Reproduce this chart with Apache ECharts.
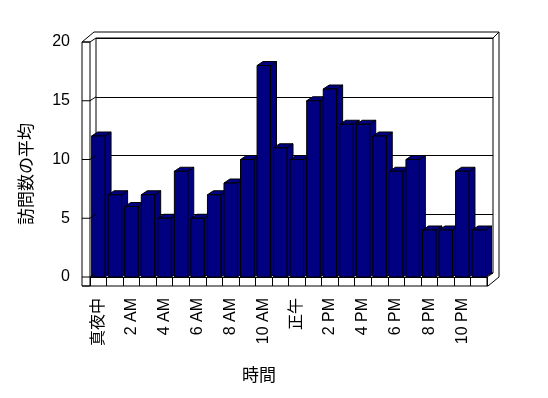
<!DOCTYPE html>
<html>
<head>
<meta charset="utf-8">
<script src="https://cdn.jsdelivr.net/npm/echarts@6/dist/echarts.min.js"></script>
<style>
  html, body { margin: 0; padding: 0; background: #fff; }
  #chart { width: 548px; height: 398px; }
</style>
</head>
<body>
<div id="chart"></div>
<script>
// 時間ごとの訪問数の平均
const hours = [
  '真夜中', '1 AM', '2 AM', '3 AM', '4 AM', '5 AM', '6 AM', '7 AM', '8 AM', '9 AM', '10 AM', '11 AM',
  '正午', '1 PM', '2 PM', '3 PM', '4 PM', '5 PM', '6 PM', '7 PM', '8 PM', '9 PM', '10 PM', '11 PM'
];
const visits = [12, 7, 6, 7, 5, 9, 5, 7, 8, 10, 18, 11, 10, 15, 16, 13, 13, 12, 9, 10, 4, 4, 9, 4];
const yTicks = [0, 5, 10, 15, 20];

const FONT = 'Liberation Sans, Arial, "Noto Sans CJK JP", sans-serif';
const JP_FONT = '"Noto Sans CJK JP", sans-serif';
const BAR = '#000080';
// 奥行き (3D風のずらし)
const DX = 6;
const DY = 4;

const chart = echarts.init(document.getElementById('chart'));

const renderBar = (params, api) => {
  const i = api.value(0);
  const v = api.value(1);
  const base = api.coord([i, 0]);
  const top = api.coord([i, v]);
  const band = api.size([1, 0])[0];
  const x0 = base[0] - band / 2 + band * 0.1;
  const x1 = x0 + band * 0.81;
  const yb = base[1];
  const yt = top[1];
  const style = { fill: BAR, stroke: '#000', lineWidth: 1 };
  return {
    type: 'group',
    children: [
      {
        type: 'polygon',
        shape: { points: [[x1, yb], [x1, yt], [x1 + DX, yt - DY], [x1 + DX, yb - DY]] },
        style: style
      },
      {
        type: 'polygon',
        shape: { points: [[x0, yt], [x1, yt], [x1 + DX, yt - DY], [x0 + DX, yt - DY]] },
        style: style
      },
      {
        type: 'rect',
        shape: { x: x0, y: yt, width: x1 - x0, height: yb - yt },
        style: style
      }
    ]
  };
};

const option = {
  backgroundColor: '#fff',
  animation: false,
  grid: [
    { left: 90, right: 61, top: 42, bottom: 121 },
    // 奥の壁
    { left: 90 + DX, right: 61 - DX, top: 42 - DY, bottom: 121 + DY, show: true, borderColor: '#000', borderWidth: 1, backgroundColor: '#fff' }
  ],
  xAxis: [
    {
      type: 'category',
      gridIndex: 0,
      data: hours,
      axisLine: { lineStyle: { color: '#000', width: 1 } },
      axisTick: { show: true, length: 9, interval: 0, lineStyle: { color: '#000' } },
      axisLabel: {
        interval: 1,
        rotate: 90,
        margin: 21,
        color: '#000',
        fontSize: 16,
        fontFamily: FONT
      }
    },
    { type: 'category', gridIndex: 1, data: hours, show: false }
  ],
  yAxis: [
    {
      type: 'value',
      gridIndex: 0,
      min: 0,
      max: 20,
      interval: 5,
      axisLine: { show: false },
      axisTick: { show: false },
      splitLine: { show: false },
      axisLabel: { margin: 20, color: '#000', fontSize: 16, fontFamily: FONT }
    },
    {
      type: 'value',
      gridIndex: 1,
      min: 0,
      max: 20,
      interval: 5,
      axisLine: { show: false },
      axisTick: { show: false },
      axisLabel: { show: false },
      splitLine: { show: true, lineStyle: { color: '#000', width: 1 } }
    }
  ],
  series: [
    {
      type: 'custom',
      xAxisIndex: 0,
      yAxisIndex: 0,
      renderItem: renderBar,
      data: visits.map((v, i) => [i, v]),
      z: 5
    }
  ]
};

chart.setOption(option);

// 壁と床の枠線
const xAxisModel = chart.getModel().getComponent('xAxis', 0);
const band = xAxisModel.axis.getBandWidth();
const L = chart.convertToPixel({ xAxisIndex: 0 }, 0) - band / 2;
const R = L + band * hours.length;
const T = chart.convertToPixel({ yAxisIndex: 0 }, 20);
const B = chart.convertToPixel({ yAxisIndex: 0 }, 0);
const WALL = 8;   // 左壁の厚み
const FLOOR = 9;  // 床の厚み
const TOPT = 6;   // 上の厚み

const line = (pts) => ({
  type: 'polyline',
  shape: { points: pts },
  style: { stroke: '#000', lineWidth: 1, fill: null },
  z: 10
});

const graphics = [];
// 左壁
graphics.push({
  type: 'rect',
  shape: { x: L - WALL, y: T, width: WALL, height: B + FLOOR - T },
  style: { fill: '#fff', stroke: '#000', lineWidth: 1 },
  z: 9
});
yTicks.forEach(v => {
  const y = chart.convertToPixel({ yAxisIndex: 0 }, v);
  graphics.push(line([[L - WALL, y], [L, y], [L + DX, y - DY]]));
});
// 上と右の枠
graphics.push(line([[L - WALL, T], [L + DX - 2, T - DY - TOPT], [R + DX + TOPT, T - DY - TOPT], [R + DX + TOPT, B - DY + 4], [R + 1, B + FLOOR]]));
graphics.push(line([[R + DX, T - DY], [R + DX + TOPT, T - DY - TOPT]]));
// 床
graphics.push(line([[L - WALL, B + FLOOR], [R + 1, B + FLOOR]]));
graphics.push(line([[R, B], [R + DX, B - DY]]));
graphics.push(line([[R, B], [R, B + FLOOR]]));

// 軸タイトル
graphics.push({
  type: 'text',
  x: 26,
  y: 174,
  rotation: Math.PI / 2,
  style: {
    text: '訪問数の平均',
    fill: '#000',
    font: '17px ' + JP_FONT,
    align: 'center',
    verticalAlign: 'middle'
  },
  z: 10
});
graphics.push({
  type: 'text',
  x: 259,
  y: 375,
  style: {
    text: '時間',
    fill: '#000',
    font: '17px ' + JP_FONT,
    align: 'center',
    verticalAlign: 'middle'
  },
  z: 10
});

chart.setOption({ graphic: graphics });
</script>
</body>
</html>
